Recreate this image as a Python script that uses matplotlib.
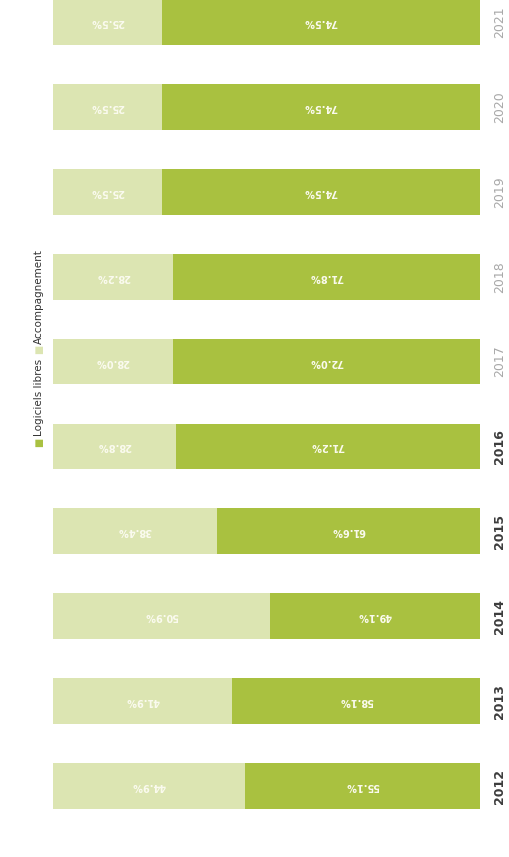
import numpy as np
import matplotlib
matplotlib.use("Agg")
import matplotlib.pyplot as plt

years = ["2012", "2013", "2014", "2015", "2016", "2017", "2018", "2019", "2020", "2021"]
logiciels = [55.1, 58.1, 49.1, 61.6, 71.2, 72.0, 71.8, 74.5, 74.5, 74.5]
accompagnement = [44.9, 41.9, 50.9, 38.4, 28.8, 28.0, 28.2, 25.5, 25.5, 25.5]
bold_years = ["2012", "2013", "2014", "2015", "2016"]

c_dark = "#a9c140"
c_light = "#dce5b2"

fig = plt.figure(figsize=(5.09, 8.57), dpi=100)
ax = fig.add_axes([0.104, 0.0, 0.839, 1.0])

pos = np.arange(len(years))
ax.barh(pos, accompagnement, height=0.54, color=c_light, left=0)
ax.barh(pos, logiciels, height=0.54, color=c_dark, left=accompagnement)

# values rotated upside down, centred in each segment
for i in range(len(years)):
    ax.text(accompagnement[i] / 2, pos[i], "%.1f%%" % accompagnement[i],
            rotation=180, ha="center", va="center", fontsize=7,
            color="#fbfbf0", fontweight="bold")
    ax.text(accompagnement[i] + logiciels[i] / 2, pos[i], "%.1f%%" % logiciels[i],
            rotation=180, ha="center", va="center", fontsize=7,
            color="#fbfbf0", fontweight="bold")
    if years[i] in bold_years:
        ax.text(104.6, pos[i], years[i], rotation=90, ha="center", va="center",
                fontsize=9, fontweight="bold", color="#3c3c3c")
    else:
        ax.text(104.6, pos[i], years[i], rotation=90, ha="center", va="center",
                fontsize=9, color="#a8a8a8")

ax.set_xlim(0, 100)
ax.set_ylim(-0.836, 9.259)
ax.axis("off")

# legend, rotated along the left edge
lx = 0.076
fig.text(lx, 0.484, "\u25a0", rotation=90, ha="center", va="center",
         fontsize=7, color=c_dark)
fig.text(lx, 0.491, "Logiciels libres", rotation=90, ha="center", va="bottom",
         fontsize=7.5, color="#333333")
fig.text(lx, 0.592, "\u25a0", rotation=90, ha="center", va="center",
         fontsize=7, color=c_light)
fig.text(lx, 0.599, "Accompagnement", rotation=90, ha="center", va="bottom",
         fontsize=7.5, color="#333333")

fig.savefig("out.png", dpi=100, facecolor="white")
